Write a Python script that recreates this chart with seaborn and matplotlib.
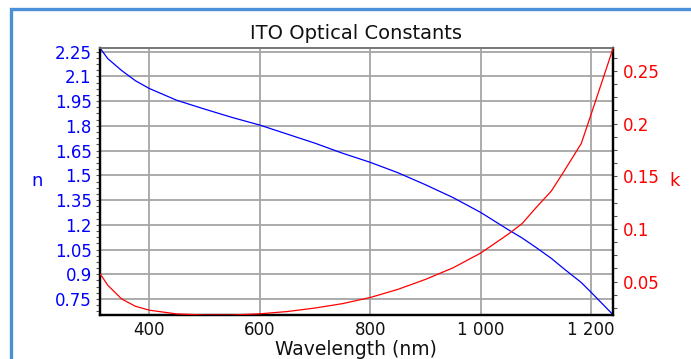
import numpy as np
import pandas as pd
import seaborn as sns
import matplotlib
matplotlib.use("Agg")
import matplotlib.pyplot as plt
from matplotlib.ticker import FixedLocator, MultipleLocator, FuncFormatter
from matplotlib.patches import Rectangle

# ---- data ----
wavelength = [311, 325, 350, 375, 400, 450, 500, 550, 600, 650, 700, 750, 800,
              850, 900, 950, 1000, 1050, 1075, 1100, 1128, 1150, 1182, 1200, 1240]
n_values = [2.272, 2.208, 2.136, 2.074, 2.027, 1.955, 1.902, 1.851, 1.805, 1.750,
            1.695, 1.634, 1.579, 1.516, 1.443, 1.365, 1.275, 1.170, 1.120, 1.063,
            0.996, 0.935, 0.850, 0.790, 0.653]
k_values = [0.0575, 0.0465, 0.0335, 0.0265, 0.0228, 0.0192, 0.0182, 0.0182, 0.0193,
            0.0215, 0.0248, 0.029, 0.0348, 0.0425, 0.052, 0.063, 0.077, 0.095,
            0.105, 0.120, 0.136, 0.154, 0.181, 0.209, 0.272]
x_ticks = [400, 600, 800, 1000, 1200]
x_tick_labels = ["400", "600", "800", "1 000", "1 200"]
n_ticks = [0.75, 0.9, 1.05, 1.2, 1.35, 1.5, 1.65, 1.8, 1.95, 2.1, 2.25]
k_ticks = [0.05, 0.1, 0.15, 0.2, 0.25]
title = "ITO Optical Constants"
x_label = "Wavelength (nm)"

df = pd.DataFrame({"wavelength": wavelength, "n": n_values, "k": k_values})

sns.set_style("white")
plt.rcParams["font.family"] = ["DejaVu Sans"]

W, H = 691, 359
fig = plt.figure(figsize=(W / 100, H / 100), dpi=100)
L, R, T, B = 100, 613.3, 47.7, 315
ax = fig.add_axes([L / W, 1 - B / H, (R - L) / W, (B - T) / H])
ax2 = ax.twinx()

BLUE = "#0000ff"
RED = "#ff0000"
GRID = "#a5a5a5"

sns.lineplot(data=df, x="wavelength", y="n", ax=ax, color=BLUE, lw=0.9, zorder=3)
sns.lineplot(data=df, x="wavelength", y="k", ax=ax2, color=RED, lw=0.9, zorder=3)

ax.set_xlim(311, 1240)
ax.set_ylim(0.653, 2.274)
ax2.set_ylim(0.0182, 0.272)

ax.xaxis.set_major_locator(FixedLocator(x_ticks))
ax.set_xticklabels(x_tick_labels)
ax.xaxis.set_minor_locator(MultipleLocator(50))
ax.yaxis.set_major_locator(FixedLocator(n_ticks))
ax.yaxis.set_major_formatter(FuncFormatter(lambda v, p: f"{v:g}"))
ax.yaxis.set_minor_locator(MultipleLocator(0.0375))
ax2.yaxis.set_major_locator(FixedLocator(k_ticks))
ax2.yaxis.set_major_formatter(FuncFormatter(lambda v, p: f"{v:g}"))
ax2.yaxis.set_minor_locator(MultipleLocator(0.0125))

ax.grid(True, which="major", color=GRID, lw=1.3)
ax.set_axisbelow(True)

ax.tick_params(axis="x", which="both", direction="out", length=3, width=0.8,
               colors="#555555", labelcolor="#111111", labelsize=12, pad=1.5)
ax.tick_params(axis="y", which="both", direction="out", length=3, width=0.8,
               colors="#555555", labelcolor=BLUE, labelsize=12, pad=3)
ax2.tick_params(axis="y", which="both", direction="out", length=3, width=0.8,
                colors="#555555", labelcolor=RED, labelsize=12, pad=4)

for a in (ax, ax2):
    for s in ("left", "right", "bottom"):
        a.spines[s].set_color("#000000")
        a.spines[s].set_linewidth(1.6)
        a.spines[s].set_visible(True)
    a.spines["top"].set_color("#777777")
    a.spines["top"].set_linewidth(1.2)
    a.spines["top"].set_visible(True)

ax.set_xlabel("")
ax.set_ylabel("")
ax2.set_ylabel("")

fig.text(356 / W, 1 - 39 / H, title, ha="center", va="baseline", fontsize=14,
         color="#111111")
fig.text(356 / W, 1 - 355 / H, x_label, ha="center", va="baseline", fontsize=13.5,
         color="#111111")
fig.text(37 / W, 1 - 181 / H, "n", ha="center", va="center", fontsize=13,
         color=BLUE)
fig.text(675 / W, 1 - 181 / H, "k", ha="center", va="center", fontsize=13,
         color=RED)

# blue frame border on left and top
fig.patches.append(Rectangle((10.5 / W, -0.1), 1.2, 1.1 - 9.5 / H,
                             transform=fig.transFigure, fill=False,
                             edgecolor="#4a90d9", lw=2.4, zorder=10))

fig.savefig("out.png", dpi=100)
